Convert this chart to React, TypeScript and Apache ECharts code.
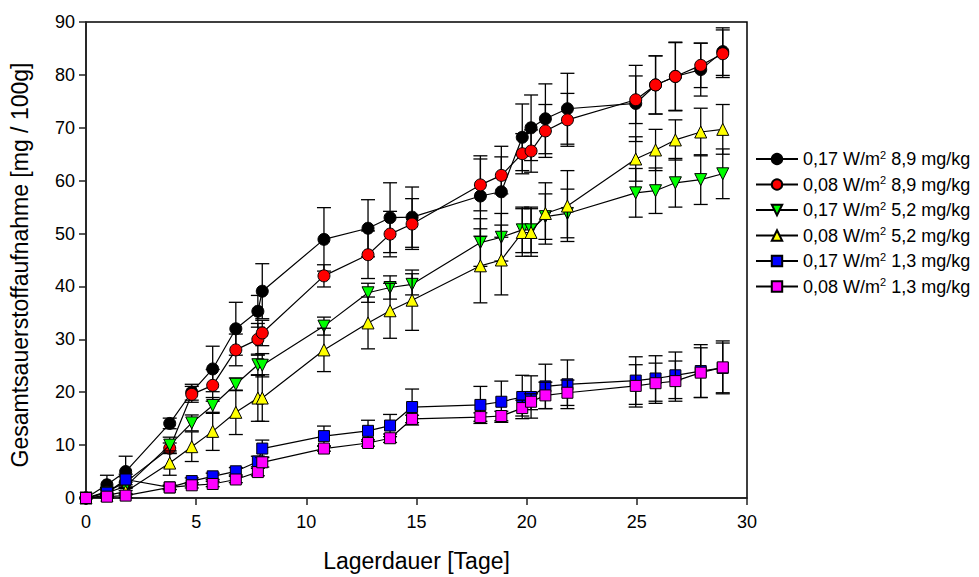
import React, { useEffect, useRef } from "react";
import * as echarts from "echarts";

const days = [0, 0.95, 1.8, 3.8, 4.8, 5.75, 6.8, 7.8, 8.0, 10.8, 12.8, 13.8, 14.8, 17.9, 18.85, 19.8, 20.2, 20.85, 21.85, 24.95, 25.85, 26.75, 27.9, 28.9];

const black = [0, 2.5, 5.0, 14.1, 20.0, 24.4, 32.0, 35.3, 39.1, 48.9, 51.0, 53.0, 53.1, 57.1, 57.9, 68.2, 70.0, 71.7, 73.6, 74.6, 78.1, 79.7, 81.0, 84.4];
const blackErr = [0, 1.8, 2.9, 1.0, 1.5, 4.3, 5.0, 3.0, 5.2, 6.0, 5.4, 6.6, 5.7, 7.6, 8.6, 6.3, 6.2, 6.6, 6.7, 7.2, 5.5, 6.5, 5.0, 4.5];

const red = [0, 1.2, 3.0, 9.4, 19.6, 21.3, 28.0, 30.0, 31.2, 42.0, 46.0, 49.9, 51.8, 59.2, 61.0, 65.1, 65.6, 69.4, 71.5, 75.3, 78.1, 79.7, 81.8, 84.0];
const redErr = [0, 0.8, 1.0, 1.0, 1.5, 3.0, 3.0, 3.0, 2.4, 2.1, 4.5, 4.3, 4.8, 4.9, 3.5, 3.8, 4.0, 5.0, 5.0, 4.5, 5.5, 6.4, 4.2, 4.5];

const green = [0, 1.0, 2.2, 10.0, 14.2, 17.5, 21.5, 25.2, 25.1, 32.5, 38.8, 39.8, 40.4, 48.3, 49.3, 50.7, 50.7, 53.2, 53.8, 57.7, 58.1, 59.6, 60.2, 61.3];
const greenErr = [0, 0.5, 0.8, 1.5, 1.5, 1.5, 1.2, 2.0, 2.2, 1.7, 1.8, 2.2, 2.0, 4.5, 4.5, 4.3, 4.3, 4.3, 4.6, 4.6, 4.3, 4.6, 4.7, 4.7];

const yellow = [0, 0.5, 1.2, 6.6, 9.7, 12.6, 16.2, 18.9, 18.9, 28.0, 33.1, 35.4, 37.4, 43.9, 45.0, 50.2, 50.2, 53.8, 55.2, 64.1, 65.8, 67.7, 69.2, 69.7];
const yellowErr = [0, 0.4, 0.6, 2.3, 2.8, 3.6, 4.2, 4.4, 4.4, 4.1, 4.9, 5.2, 5.7, 7.0, 6.6, 4.5, 4.5, 5.8, 6.7, 4.2, 3.9, 3.8, 4.5, 4.7];

const blue = [0, 1.0, 3.5, 2.0, 3.2, 4.1, 5.05, 6.9, 9.35, 11.7, 12.7, 13.7, 17.2, 17.6, 18.2, 19.1, 19.1, 21.1, 21.5, 22.2, 22.6, 23.2, 24.0, 24.6];
const blueErr = [0, 0.7, 1.0, 0.4, 0.6, 0.6, 0.7, 1.0, 1.6, 1.9, 2.0, 2.1, 3.4, 3.5, 3.9, 4.1, 4.0, 4.2, 4.6, 4.5, 4.3, 4.4, 5.0, 4.7];

const magenta = [0, 0.25, 0.45, 2.0, 2.4, 2.65, 3.5, 4.9, 6.75, 9.35, 10.4, 11.3, 14.95, 15.3, 15.5, 17.0, 18.2, 19.4, 19.9, 21.2, 21.7, 22.1, 23.7, 24.7];
const magentaErr = [0, 0.3, 0.4, 0.4, 0.5, 0.5, 0.6, 0.7, 0.9, 0.5, 0.6, 0.8, 0.7, 0.8, 0.9, 1.5, 1.5, 2.5, 2.4, 4.0, 3.8, 3.8, 4.7, 5.0];

const seriesNames = [
  "0,17 W/m2 8,9 mg/kg",
  "0,08 W/m2 8,9 mg/kg",
  "0,17 W/m2 5,2 mg/kg",
  "0,08 W/m2 5,2 mg/kg",
  "0,17 W/m2 1,3 mg/kg",
  "0,08 W/m2 1,3 mg/kg",
];
const xTicks = [0, 5, 10, 15, 20, 25, 30];
const yTicks = [0, 10, 20, 30, 40, 50, 60, 70, 80, 90];

const FONT = "'Liberation Sans', Arial, sans-serif";

export default function App() {
  const ref = useRef<HTMLDivElement>(null);
  useEffect(() => {
    if (!ref.current) return;
    const chart = echarts.init(ref.current, undefined, { renderer: "svg" });
    const groups = [
      { v: black, e: blackErr, color: "#000000", symbol: "circle", size: 12, rot: 0 },
      { v: red, e: redErr, color: "#FF0000", symbol: "circle", size: 12, rot: 0 },
      { v: green, e: greenErr, color: "#00FF00", symbol: "triangle", size: 12, rot: 180 },
      { v: yellow, e: yellowErr, color: "#FFFF00", symbol: "triangle", size: 12, rot: 0 },
      { v: blue, e: blueErr, color: "#0000FF", symbol: "rect", size: 11, rot: 0 },
      { v: magenta, e: magentaErr, color: "#FF00FF", symbol: "rect", size: 11, rot: 0 },
    ];
    const series: any[] = [];
    groups.forEach((g, i) => {
      series.push({
        type: "custom",
        name: "err" + i,
        z: 2 + i * 2,
        silent: true,
        encode: { x: 0, y: 1 },
        data: days.map((d, k) => [d, g.v[k], g.e[k]]),
        renderItem: (params: any, api: any) => {
          const x = api.value(0);
          const y = api.value(1);
          const e = api.value(2);
          if (!e) return null;
          const t = api.coord([x, y + e]);
          const b = api.coord([x, y - e]);
          const w = 7;
          const st = { stroke: "#000", lineWidth: 1.3 };
          return {
            type: "group",
            children: [
              { type: "line", shape: { x1: t[0], y1: t[1], x2: b[0], y2: b[1] }, style: st },
              { type: "line", shape: { x1: t[0] - w, y1: t[1], x2: t[0] + w, y2: t[1] }, style: st },
              { type: "line", shape: { x1: b[0] - w, y1: b[1], x2: b[0] + w, y2: b[1] }, style: st },
            ],
          };
        },
      });
      series.push({
        type: "line",
        name: seriesNames[i],
        z: 3 + i * 2,
        data: days.map((d, k) => [d, g.v[k]]),
        symbol: g.symbol,
        symbolSize: g.size,
        symbolRotate: g.rot,
        showAllSymbol: true,
        lineStyle: { color: "#000", width: 1.2 },
        itemStyle: { color: g.color, borderColor: "#000", borderWidth: 1 },
        emphasis: { disabled: true },
      });
    });

    chart.setOption({
      animation: false,
      backgroundColor: "#fff",
      textStyle: { fontFamily: FONT },
      grid: {
        left: 86,
        right: 232,
        top: 22,
        bottom: 79,
        show: true,
        borderColor: "#000",
        borderWidth: 1.5,
        containLabel: false,
        outerBoundsMode: "none",
      },
      legend: {
        orient: "vertical",
        left: 750,
        top: 144,
        itemWidth: 42,
        itemHeight: 13,
        itemGap: 5.5,
        data: seriesNames,
        formatter: (name: string) => name.replace("W/m2", "W/m{sup|2}"),
        textStyle: {
          fontFamily: FONT,
          fontSize: 18,
          color: "#000",
          lineHeight: 20,
          rich: {
            sup: { fontSize: 11, lineHeight: 20, verticalAlign: "top", fontFamily: FONT, color: "#000", padding: [0, 0, 6, 0] },
          },
        },
      },
      xAxis: {
        type: "value",
        min: 0,
        max: 30,
        interval: 5,
        name: "Lagerdauer [Tage]",
        nameLocation: "middle",
        nameGap: 51,
        nameTextStyle: { fontSize: 23, color: "#000", fontFamily: FONT },
        axisLine: { show: true, lineStyle: { color: "#222", width: 1.5 } },
        axisTick: { show: true, inside: false, length: 7, lineStyle: { color: "#222", width: 1.5 } },
        axisLabel: { fontSize: 18, color: "#000", margin: 15, fontFamily: FONT, formatter: (v: number) => (xTicks.includes(v) ? String(v) : "") },
        splitLine: { show: false },
      },
      yAxis: {
        type: "value",
        min: 0,
        max: 90,
        interval: 10,
        name: "Gesamtsauerstoffaufnahme [mg / 100g]",
        nameLocation: "middle",
        nameGap: 55,
        nameTextStyle: { fontSize: 23, color: "#000", fontFamily: FONT, padding: [0, 10, 0, 0] },
        axisLine: { show: true, lineStyle: { color: "#222", width: 1.5 } },
        axisTick: { show: true, inside: false, length: 7, lineStyle: { color: "#222", width: 1.5 } },
        axisLabel: { fontSize: 18, color: "#000", margin: 11, fontFamily: FONT, formatter: (v: number) => (yTicks.includes(v) ? String(v) : "") },
        splitLine: { show: false },
      },
      series,
    });
    return () => chart.dispose();
  }, []);
  return <div ref={ref} style={{ width: 979, height: 577, position: "absolute", left: 0, top: 0 }} />;
}
